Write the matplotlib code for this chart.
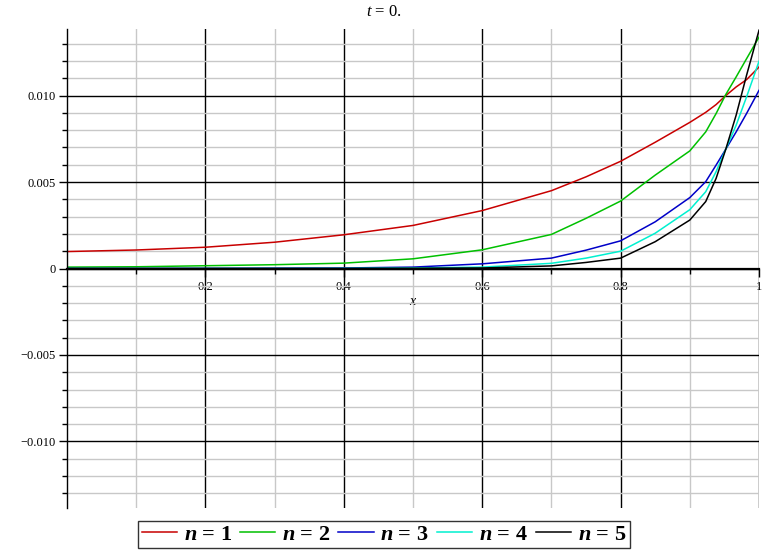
import matplotlib
matplotlib.use("Agg")
import matplotlib.pyplot as plt
import numpy as np
from matplotlib.ticker import MultipleLocator, FixedLocator

plt.rcParams['font.family'] = ['Liberation Serif', 'DejaVu Serif']
plt.rcParams['mathtext.fontset'] = 'custom'
plt.rcParams['mathtext.rm'] = 'Liberation Serif'
plt.rcParams['mathtext.it'] = 'Liberation Serif:italic'
plt.rcParams['mathtext.bf'] = 'Liberation Serif:bold'
plt.rcParams['mathtext.bfit'] = 'Liberation Serif:italic:bold'

# values
xs = [0.0, 0.1, 0.2, 0.3, 0.4, 0.5, 0.6, 0.7, 0.75, 0.8, 0.85, 0.9,
      0.923, 0.938, 0.952, 0.967, 0.982, 1.0]
n1 = [0.00098, 0.00107, 0.00123, 0.00152, 0.00195, 0.00249, 0.00335, 0.00450,
      0.0053, 0.0062, 0.0073, 0.00845, 0.00903, 0.00948, 0.0100, 0.0105,
      0.01092, 0.01165]
n2 = [0.00008, 0.0001, 0.00016, 0.00022, 0.00031, 0.00056, 0.00108, 0.00197,
      0.0029, 0.0039, 0.0054, 0.0068, 0.0079, 0.00896, 0.01006, 0.01108,
      0.01213, 0.01338]
n3 = [0.0, 0.0, 0.00001, 0.00002, 0.00003, 0.00008, 0.00027, 0.0006,
      0.00106, 0.0016, 0.0027, 0.0041, 0.00502, 0.00598, 0.0069, 0.0079,
      0.00896, 0.0103]
n4 = [0.0, 0.0, 0.0, 0.0, 0.00001, 0.00003, 0.00008, 0.0003,
      0.0006, 0.001, 0.00204, 0.0034, 0.00444, 0.0056, 0.0069, 0.00829,
      0.00992, 0.01198]
n5 = [0.0, 0.0, 0.0, 0.0, 0.0, 0.00001, 0.00003, 0.00015,
      0.00035, 0.0006, 0.00155, 0.0028, 0.00387, 0.00521, 0.0069, 0.00887,
      0.01117, 0.01377]

series = [n1, n2, n3, n4, n5]
colors = ['#c80000', '#00c000', '#0000c8', '#00f0d0', '#000000']
labels = [r'$\mathbfit{n}$ = %d' % k for k in range(1, 6)]

fig = plt.figure(figsize=(7.68, 5.56), dpi=100)
ax = fig.add_axes([67/768, 1-508/556, 692/768, 479/556])

for y, c, lab in zip(series, colors, labels):
    ax.plot(xs, y, color=c, lw=1.1, label=lab)

ax.set_xlim(0, 1)
ax.set_ylim(-0.01385, 0.01385)

ax.xaxis.set_major_locator(FixedLocator([0.2, 0.4, 0.6, 0.8, 1.0]))
ax.xaxis.set_minor_locator(FixedLocator([0.1, 0.3, 0.5, 0.7, 0.9]))
ax.set_xticklabels(['0.2', '0.4', '0.6', '0.8', '1'])
ax.yaxis.set_major_locator(FixedLocator([-0.010, -0.005, 0.0, 0.005, 0.010]))
ax.yaxis.set_minor_locator(MultipleLocator(0.001))
ax.set_yticklabels(['\u22120.010', '\u22120.005', '0', '0.005', '0.010'])

ax.grid(which='major', color='black', lw=1.0)
ax.grid(which='minor', color='#c8c8c8', lw=1.0)
ax.set_axisbelow(True)

ax.spines['top'].set_visible(False)
ax.spines['right'].set_visible(False)
ax.spines['bottom'].set_position(('data', 0))
ax.spines['bottom'].set_linewidth(1.6)
ax.spines['left'].set_linewidth(1.0)

ax.tick_params(axis='both', which='major', labelsize=9, direction='out',
               length=6, width=1.0, color='black')
ax.tick_params(axis='both', which='minor', direction='out', length=3.5, width=1.0)
ax.tick_params(axis='x', which='major', pad=3)
ax.tick_params(axis='y', which='major', pad=2)

ax.set_xlabel(r'$x$', fontsize=10)
ax.xaxis.set_label_coords(0.5, 0.445)

fig.text(0.5, 1-12/556, r'$t$ = 0.', ha='center', va='center', fontsize=12)

leg = fig.legend(loc='lower center', bbox_to_anchor=(0.5, 0.014), ncol=5,
                 prop={'size': 16, 'weight': 'bold'}, frameon=True,
                 fancybox=False, edgecolor='black',
                 handlelength=1.6, handletextpad=0.3, columnspacing=0.35,
                 borderpad=0.15, borderaxespad=0)
leg.get_frame().set_linewidth(1.0)

plt.savefig("out.png", dpi=100)
